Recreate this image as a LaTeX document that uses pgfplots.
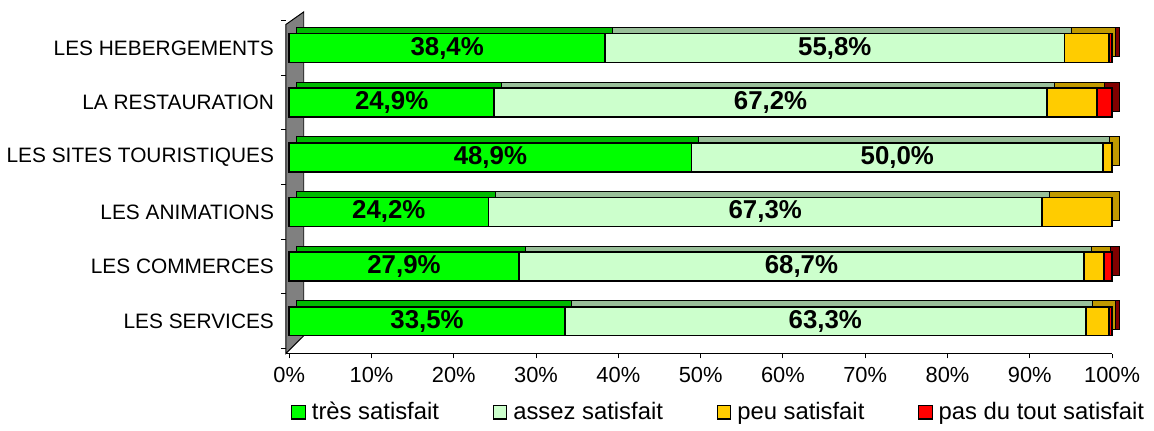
\documentclass[border=0pt]{standalone}
\usepackage{fontspec}
\setmainfont{Liberation Sans}
\usepackage{pgfplots}
\usepackage{pgfplotstable}
\pgfplotsset{compat=1.18}
\definecolor{cTres}{HTML}{00FF00}
\definecolor{cAssez}{HTML}{CCFFCC}
\definecolor{cPeu}{HTML}{FFCC00}
\definecolor{cPas}{HTML}{FF0000}
\definecolor{dTres}{HTML}{00BA00}
\definecolor{dAssez}{HTML}{99BF99}
\definecolor{dPeu}{HTML}{C09900}
\definecolor{dPas}{HTML}{800000}
\definecolor{wallgray}{HTML}{808080}

% y: 0 = LES SERVICES ... 5 = LES HEBERGEMENTS
% a = tres satisfait, b = assez satisfait, c = peu satisfait, d = pas du tout satisfait
\pgfplotstableread{
y a b c d
5 38.4 55.8 5.4 0.4
4 24.9 67.2 6.1 1.8
3 48.9 50.0 1.1 0.0
2 24.2 67.3 8.5 0.0
1 27.9 68.7 2.4 1.0
0 33.5 63.3 2.8 0.4
}\data

\begin{document}
\begin{tikzpicture}
\begin{axis}[
  scale only axis, width=416pt, height=172pt,
  xmin=-0.4, xmax=100, ymin=-0.59, ymax=5.66,
  clip=false,
  axis x line*=bottom, axis y line*=left,
  y axis line style={draw=none},
  x axis line style={black, line width=0.5pt},
  xtick={0,10,...,100},
  xticklabel={\pgfmathprintnumber{\tick}\%},
  /pgf/number format/assume math mode=true,
  tick align=outside, major tick length=2.5pt,
  tick style={black, line width=0.5pt},
  ytick={-0.5,0.5,1.5,2.5,3.5,4.5,5.5},
  y tick label as interval,
  yticklabels={LES SERVICES,LES COMMERCES,LES ANIMATIONS,LES SITES TOURISTIQUES,LA RESTAURATION,LES HEBERGEMENTS},
  yticklabel style={font=\fontsize{10.5}{12}\selectfont},
  xticklabel style={font=\fontsize{11}{13}\selectfont, yshift=-1pt},
  legend image code/.code={\draw[#1] (0pt,-3.4pt) rectangle (6.8pt,3.4pt);},
  legend style={at={(0.525,-0.172)}, anchor=center, draw=none, fill=none,
    legend columns=4, font=\fontsize{12}{14}\selectfont,
    /tikz/every even column/.append style={column sep=25pt},
    /tikz/every odd column/.append style={column sep=1pt}},
]
% back wall
\fill[wallgray, draw=black, line width=0.5pt] (axis cs:-0.4,-0.59) -- (axis cs:-0.4,5.43) -- (axis cs:1.77,5.66) -- (axis cs:1.77,-0.264) -- cycle;

% back layer (3D depth)
\addplot[xbar, bar width=14.5pt, fill=dPas, draw=black, line width=0.5pt, xshift=3.5pt, yshift=3pt, forget plot]
  table[y=y, x expr=\thisrow{a}+\thisrow{b}+\thisrow{c}+\thisrow{d}] {\data};
\addplot[xbar, bar width=14.5pt, fill=dPeu, draw=black, line width=0.5pt, xshift=3.5pt, yshift=3pt, forget plot]
  table[y=y, x expr=\thisrow{a}+\thisrow{b}+\thisrow{c}] {\data};
\addplot[xbar, bar width=14.5pt, fill=dAssez, draw=black, line width=0.5pt, xshift=3.5pt, yshift=3pt, forget plot]
  table[y=y, x expr=\thisrow{a}+\thisrow{b}] {\data};
\addplot[xbar, bar width=14.5pt, fill=dTres, draw=black, line width=0.5pt, xshift=3.5pt, yshift=3pt, forget plot]
  table[y=y, x=a] {\data};

% front faces
\addplot[xbar, bar width=14.5pt, fill=cPas, draw=black, line width=0.8pt, forget plot]
  table[y=y, x expr=\thisrow{a}+\thisrow{b}+\thisrow{c}+\thisrow{d}] {\data};
\addplot[xbar, bar width=14.5pt, fill=cPeu, draw=black, line width=0.8pt, forget plot]
  table[y=y, x expr=\thisrow{a}+\thisrow{b}+\thisrow{c}] {\data};
\addplot[xbar, bar width=14.5pt, fill=cAssez, draw=black, line width=0.8pt, forget plot]
  table[y=y, x expr=\thisrow{a}+\thisrow{b}] {\data};
\addplot[xbar, bar width=14.5pt, fill=cTres, draw=black, line width=0.8pt, forget plot]
  table[y=y, x=a] {\data};

% value labels
\addplot[draw=none, forget plot, point meta=explicit,
  nodes near coords={\pgfmathprintnumber[fixed,fixed zerofill,precision=1,use comma]{\pgfplotspointmeta}\%},
  every node near coord/.append style={anchor=center, font=\bfseries\fontsize{13}{15}\selectfont}]
  table[y=y, x expr=\thisrow{a}/2, meta=a] {\data};
\addplot[draw=none, forget plot, point meta=explicit,
  nodes near coords={\pgfmathprintnumber[fixed,fixed zerofill,precision=1,use comma]{\pgfplotspointmeta}\%},
  every node near coord/.append style={anchor=center, font=\bfseries\fontsize{13}{15}\selectfont}]
  table[y=y, x expr=\thisrow{a}+\thisrow{b}/2, meta=b] {\data};

% legend
\addlegendimage{fill=cTres, draw=black, line width=0.6pt}
\addlegendentry{très satisfait}
\addlegendimage{fill=cAssez, draw=black, line width=0.6pt}
\addlegendentry{assez satisfait}
\addlegendimage{fill=cPeu, draw=black, line width=0.6pt}
\addlegendentry{peu satisfait}
\addlegendimage{fill=cPas, draw=black, line width=0.6pt}
\addlegendentry{pas du tout satisfait}

\path (rel axis cs:-0.340,-0.2151) rectangle (rel axis cs:1.0469,1.0349);
\end{axis}
\end{tikzpicture}
\end{document}
